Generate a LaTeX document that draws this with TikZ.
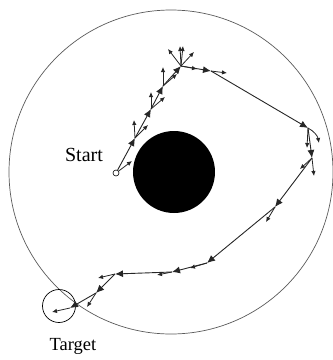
\documentclass[tikz,border=0pt]{standalone}
\usepackage{fontspec}
\setmainfont{Liberation Serif}
\usetikzlibrary{arrows.meta}
\definecolor{Ink}{HTML}{000000}
\definecolor{Ink2}{HTML}{262626}
\definecolor{RimC}{HTML}{5A5A5A}

\begin{document}
\begin{tikzpicture}[x=1pt, y=-1pt,
    leg/.style={-{Latex[length=8pt,width=7pt]}, Ink2, line width=0.9pt},
    vec/.style={-{Latex[length=5pt,width=4.5pt]}, Ink2, line width=0.8pt},
    ring/.style={circle, draw=#1, inner sep=0pt}]
  \useasboundingbox (0,0) rectangle (333,360);
  % arena, obstacle, start and target
  \node[ring=RimC, line width=0.7pt, minimum size=324pt] (arena) at (171,172) {};
  \node[circle, fill=Ink, inner sep=0pt, minimum size=82pt] (obst) at (174,172) {};
  \node[ring=Ink, line width=0.6pt, minimum size=6pt] (start) at (116,173) {};
  \node[ring=Ink, line width=0.7pt, minimum size=33pt] (goal) at (59,306) {};
  \node[font=\fontsize{20}{24}\selectfont] (startlbl) at (84,155) {Start};
  \node[font=\fontsize{18.5}{22}\selectfont] (goallbl) at (73,346) {Target};

  % waypoints of the trajectory
  \coordinate (w1) at (135,138);
  \coordinate (w2) at (151,109);
  \coordinate (w3) at (163,86);
  \coordinate (w4) at (181,66);
  \coordinate (w5) at (211,71);
  \coordinate (w6) at (308,128);
  \coordinate (w7) at (312,158);
  \coordinate (w8) at (275,207);
  \coordinate (w9) at (207,263);
  \coordinate (w10) at (172,272);
  \coordinate (w11) at (115,274);
  \coordinate (w12) at (96,293);
  \coordinate (w13) at (70,308);

  % tips of the short vectors
  \coordinate (t0) at (132,161);
  \coordinate (t1a) at (134,120);
  \coordinate (t1b) at (148,125);
  \coordinate (t2a) at (151,92);
  \coordinate (t2b) at (165,97);
  \coordinate (t3a) at (163,67);
  \coordinate (t3b) at (177,74);
  \coordinate (t4a) at (168,49);
  \coordinate (t4b) at (180,46);
  \coordinate (t4c) at (183,46);
  \coordinate (t4d) at (194,52);
  \coordinate (t4e) at (197,69);
  \coordinate (t5) at (227,73);
  \coordinate (t6a) at (307,148);
  \coordinate (t6b) at (319,143);
  \coordinate (t7a) at (314,176);
  \coordinate (t7b) at (300,169);
  \coordinate (t8) at (266,222);
  \coordinate (t9) at (190,268);
  \coordinate (t10) at (157,275);
  \coordinate (t11) at (98,278);
  \coordinate (t12) at (87,307);
  \coordinate (t13) at (52,312);

  \draw[leg] (start) -- (w1);
  \foreach \a/\b in {w1/w2, w2/w3, w3/w4, w4/w5, w5/w6, w6/w7, w7/w8,
                     w8/w9, w9/w10, w10/w11, w11/w12, w12/w13}
    \draw[leg] (\a) -- (\b);

  \draw[vec] (start) -- (t0);
  \foreach \a/\b in {w1/t1a, w1/t1b, w2/t2a, w2/t2b, w3/t3a, w3/t3b,
                     w4/t4a, w4/t4b, w4/t4c, w4/t4d, w4/t4e, w5/t5,
                     w6/t6a, w7/t7a, w7/t7b, w8/t8, w9/t9, w10/t10,
                     w11/t11, w12/t12, w13/t13}
    \draw[vec] (\a) -- (\b);
  \draw[vec] (w6) to[bend left=25] (t6b);
\end{tikzpicture}
\end{document}
